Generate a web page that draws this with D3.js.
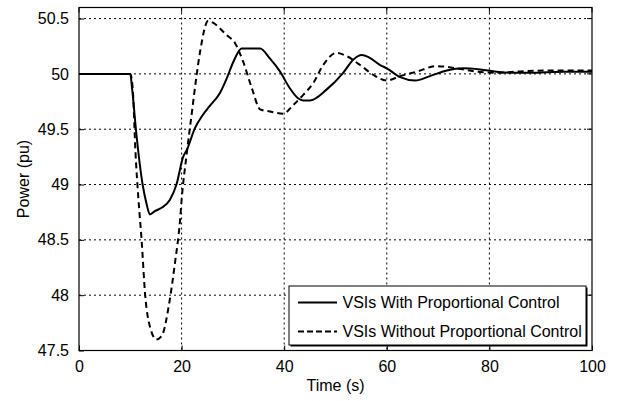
<!DOCTYPE html>
<html>
<head>
<meta charset="utf-8">
<script src="https://cdn.jsdelivr.net/npm/d3@7"></script>
<style>
  body { margin: 0; background: #fff; }
  text { font-family: "Liberation Sans", Arial, sans-serif; fill: #000; }
</style>
</head>
<body>
<div class="chart"></div>
<script>
// DATA ------------------------------
const xTicks = [0, 20, 40, 60, 80, 100];
const yTicks = [47.5, 48, 48.5, 49, 49.5, 50, 50.5];
const seriesNames = ["VSIs With Proportional Control", "VSIs Without Proportional Control"];

// with proportional control (solid)
const timeWith = [0, 10, 10.3, 11.2, 12.4, 13.2, 13.8, 14.8, 16.1, 17.7, 19.0, 20.3, 21.0, 22.6, 24.0, 25.5, 27.5, 28.8, 30.1, 31.7, 35.3, 37.2, 39.2, 41.1, 42.7, 43.7, 45.0, 48.3, 51.5, 53.5, 55.1, 56.5, 58.7, 60.0, 62.6, 65.5, 68.4, 71.7, 74.9, 78.2, 81.4, 84.7, 87.9, 91.2, 94.5, 100];
const powerWith = [50, 50, 49.89, 49.45, 49.0, 48.82, 48.73, 48.76, 48.79, 48.86, 49.0, 49.25, 49.31, 49.51, 49.62, 49.71, 49.83, 49.96, 50.11, 50.23, 50.23, 50.14, 50.02, 49.87, 49.78, 49.76, 49.76, 49.86, 50.01, 50.13, 50.17, 50.15, 50.08, 50.05, 49.97, 49.94, 49.98, 50.03, 50.05, 50.04, 50.02, 50.01, 50.01, 50.015, 50.02, 50.02];

// without proportional control (dashed)
const timeWithout = [0, 10, 10.5, 11.0, 11.6, 12.2, 12.9, 13.8, 15.1, 16.1, 17.7, 18.7, 19.7, 20.0, 21.0, 22.0, 22.9, 23.6, 25.2, 26.2, 28.8, 30.4, 32.0, 33.7, 35.3, 37.2, 39.8, 41.8, 43.7, 45.7, 47.6, 50.2, 52.2, 54.8, 57.4, 60.0, 62.6, 65.8, 69.7, 73.6, 77.5, 81.4, 85.2, 91.2, 98.2, 100];
const powerWithout = [50, 50, 49.85, 49.3, 48.86, 48.5, 48.0, 47.72, 47.6, 47.63, 47.96, 48.29, 48.68, 48.86, 49.28, 49.65, 49.98, 50.2, 50.48, 50.46, 50.35, 50.28, 50.11, 49.87, 49.68, 49.66, 49.64, 49.72, 49.81, 49.92, 50.08, 50.19, 50.16, 50.08, 49.99, 49.94, 49.98, 50.02, 50.07, 50.05, 50.02, 50.01, 50.02, 50.03, 50.03, 50.03];

// CHART INIT ------------------------------
const W = 617, H = 401;
const margin = ({top: 7.5, right: 25, bottom: 50.5, left: 79});
const w = W - margin.left - margin.right,
      h = H - margin.top - margin.bottom;

const svg = d3.select(".chart")
    .append("svg")
    .attr("width", W)
    .attr("height", H)
    .append("g")
    .attr("transform", "translate(" + margin.left + "," + margin.top + ")");

const xScale = d3.scaleLinear().domain([0, 100]).range([0, w]);
const yScale = d3.scaleLinear().domain([47.5, 50.6]).range([h, 0]);

// grid (dotted)
svg.append("g").selectAll("line")
    .data(xTicks.filter(d => d > 0 && d < 100))
    .join("line")
    .attr("x1", d => xScale(d)).attr("x2", d => xScale(d))
    .attr("y1", 0).attr("y2", h)
    .attr("stroke", "#000").attr("stroke-width", 1)
    .attr("stroke-dasharray", "2,3");

svg.append("g").selectAll("line")
    .data(yTicks.filter(d => d > 47.5))
    .join("line")
    .attr("x1", 0).attr("x2", w)
    .attr("y1", d => yScale(d)).attr("y2", d => yScale(d))
    .attr("stroke", "#000").attr("stroke-width", 1)
    .attr("stroke-dasharray", "2,3");

// axes
const xAxis = d3.axisBottom(xScale).tickValues(xTicks).tickFormat(d => d).tickSizeInner(-5).tickSizeOuter(0).tickPadding(10);
const yAxis = d3.axisLeft(yScale).tickValues(yTicks).tickFormat(d => d).tickSizeInner(-5).tickSizeOuter(0).tickPadding(10);

svg.append("g")
    .attr("class", "axis x-axis")
    .attr("transform", `translate(0, ${h})`)
    .call(xAxis);
svg.append("g")
    .attr("class", "axis y-axis")
    .call(yAxis);

svg.selectAll(".axis .domain").remove();
svg.selectAll(".axis text").attr("font-size", "16px").attr("font-family", "Liberation Sans, Arial, sans-serif");
svg.selectAll(".axis line").attr("stroke", "#000");

// right side ticks (matlab box)
svg.append("g").selectAll("line")
    .data(yTicks)
    .join("line")
    .attr("x1", w).attr("x2", w - 5)
    .attr("y1", d => yScale(d)).attr("y2", d => yScale(d))
    .attr("stroke", "#000");
svg.append("g").selectAll("line")
    .data(xTicks)
    .join("line")
    .attr("x1", d => xScale(d)).attr("x2", d => xScale(d))
    .attr("y1", 0).attr("y2", 5)
    .attr("stroke", "#000");

// lines
const line = d3.line()
    .x(d => xScale(d[0]))
    .y(d => yScale(d[1]))
    .curve(d3.curveMonotoneX);

svg.append("path")
    .datum(timeWithout.map((t, i) => [t, powerWithout[i]]))
    .attr("fill", "none")
    .attr("stroke", "#000")
    .attr("stroke-width", 2)
    .attr("stroke-dasharray", "6,4")
    .attr("d", line);

svg.append("path")
    .datum(timeWith.map((t, i) => [t, powerWith[i]]))
    .attr("fill", "none")
    .attr("stroke", "#000")
    .attr("stroke-width", 2)
    .attr("d", line);

// frame
svg.append("rect")
    .attr("x", 0).attr("y", 0)
    .attr("width", w).attr("height", h)
    .attr("fill", "none")
    .attr("stroke", "#000")
    .attr("stroke-width", 1.2);

// axis labels
svg.append("text")
    .attr("x", w / 2)
    .attr("y", h + 40)
    .attr("text-anchor", "middle")
    .attr("font-size", "16px")
    .text("Time (s)");

svg.append("text")
    .attr("transform", `translate(${-50}, ${h / 2}) rotate(-90)`)
    .attr("text-anchor", "middle")
    .attr("font-size", "16px")
    .text("Power (pu)");

// legend
const lx = 289 - margin.left, ly = 286 - margin.top, lw = 297, lh = 59;
const legend = svg.append("g").attr("transform", `translate(${lx}, ${ly})`);
legend.append("rect")
    .attr("x", 1.5).attr("y", 1.5)
    .attr("width", lw).attr("height", lh)
    .attr("fill", "#000");
legend.append("rect")
    .attr("width", lw).attr("height", lh)
    .attr("fill", "#fff")
    .attr("stroke", "#000")
    .attr("stroke-width", 1);

const rows = legend.selectAll(".row")
    .data(seriesNames)
    .join("g")
    .attr("class", "row")
    .attr("transform", (d, i) => `translate(0, ${16.5 + i * 29})`);

rows.append("line")
    .attr("x1", 9).attr("x2", 48)
    .attr("stroke", "#000")
    .attr("stroke-width", 2)
    .attr("stroke-dasharray", (d, i) => i ? "6,3" : null);

rows.append("text")
    .attr("x", 53.5)
    .attr("dy", "0.35em")
    .attr("font-size", "16px")
    .text(d => d);
</script>
</body>
</html>
